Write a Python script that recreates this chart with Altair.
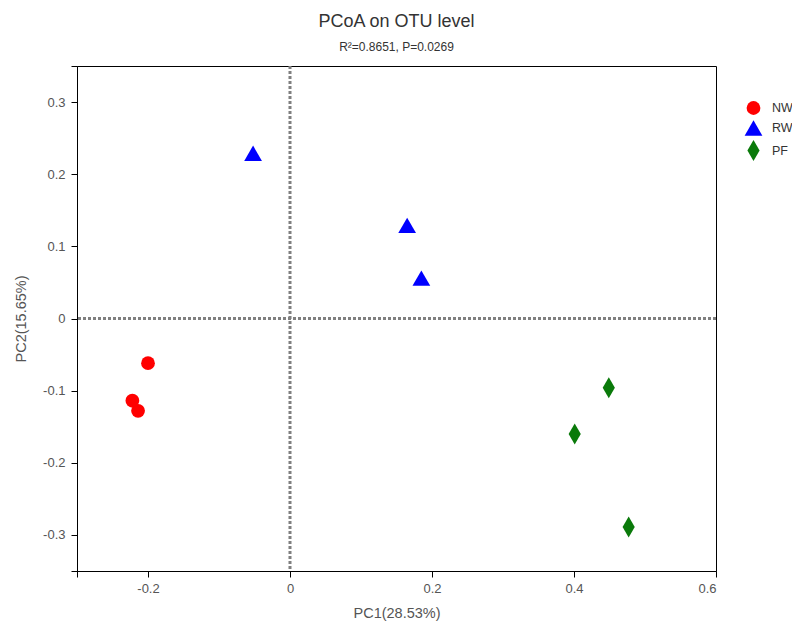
import altair as alt
import pandas as pd

groups = ["NW", "NW", "NW", "RW", "RW", "RW", "PF", "PF", "PF"]
pc1 = [-0.200, -0.222, -0.214, -0.052, 0.165, 0.185, 0.401, 0.449, 0.477]
pc2 = [-0.062, -0.114, -0.128, 0.229, 0.129, 0.056, -0.160, -0.096, -0.289]
group_order = ["NW", "RW", "PF"]
group_colors = ["#FF0000", "#0000FF", "#0A7A0A"]
x_ticks = [-0.3, -0.2, 0, 0.2, 0.4, 0.6]
y_ticks = [-0.35, -0.3, -0.2, -0.1, 0, 0.1, 0.2, 0.3, 0.35]

df = pd.DataFrame({"group": groups, "pc1": pc1, "pc2": pc2})
ref = pd.DataFrame({"v": [0]})

FONT = "Liberation Sans"
lab_expr = "(datum.value < 0 ? '-' : '') + format(abs(datum.value), '.1f')"
x_expr = "datum.value == -0.3 ? '' : (datum.value == 0 ? '0' : " + lab_expr + ")"
y_expr = "abs(datum.value) == 0.35 ? '' : (datum.value == 0 ? '0' : " + lab_expr + ")"

xscale = alt.Scale(domain=[-0.3, 0.6], nice=False, zero=False)
yscale = alt.Scale(domain=[-0.35, 0.35], nice=False, zero=False)

points = alt.Chart(df).mark_point(filled=True, opacity=1).encode(
    x=alt.X("pc1:Q", scale=xscale,
            axis=alt.Axis(title="PC1(28.53%)", values=x_ticks, labelExpr=x_expr,
                          grid=False, tickSize=6, labelPadding=5, titlePadding=11)),
    y=alt.Y("pc2:Q", scale=yscale,
            axis=alt.Axis(title="PC2(15.65%)", values=y_ticks, labelExpr=y_expr,
                          grid=False, tickSize=6, labelPadding=6, titlePadding=14)),
    color=alt.Color("group:N", scale=alt.Scale(domain=group_order, range=group_colors),
                    sort=group_order, title=None),
    shape=alt.Shape("group:N", scale=alt.Scale(domain=group_order,
                    range=["circle", "triangle-up", "M0,-1L0.58,0L0,1L-0.58,0Z"]),
                    sort=group_order, title=None),
    size=alt.Size("group:N", scale=alt.Scale(domain=group_order, range=[190, 440, 760]),
                  sort=group_order, title=None),
)

vline = alt.Chart(ref).mark_rule(color="#7F7F7F", strokeWidth=3, strokeDash=[3, 2]).encode(
    x=alt.X("v:Q", scale=xscale))
hline = alt.Chart(ref).mark_rule(color="#7F7F7F", strokeWidth=3, strokeDash=[3, 2]).encode(
    y=alt.Y("v:Q", scale=yscale))

chart = alt.layer(vline, hline, points).properties(
    width=639, height=505,
    autosize=alt.AutoSizeParams(type="none"),
    padding={"left": 77, "top": 66, "right": 76, "bottom": 52},
    title=alt.TitleParams("PCoA on OTU level", subtitle="R²=0.8651, P=0.0269",
                          font=FONT, fontSize=18, fontWeight="normal", color="#333333",
                          subtitleFont=FONT, subtitleFontSize=12, subtitleColor="#333333",
                          subtitlePadding=11, anchor="middle", offset=12),
).configure_view(stroke="black", strokeWidth=1).configure_axis(
    domainColor="black", tickColor="black", labelFont=FONT, titleFont=FONT,
    labelFontSize=13, labelColor="#555555", titleFontSize=14.5, titleColor="#555555",
    titleFontWeight="normal",
).configure_legend(
    orient="none", legendX=666, legendY=35, labelFont=FONT, labelFontSize=12.5,
    labelColor="#333333", rowPadding=4, symbolStrokeWidth=0, labelOffset=8,
)

chart.save("out.html", embed_options={"renderer": "svg", "actions": False})
